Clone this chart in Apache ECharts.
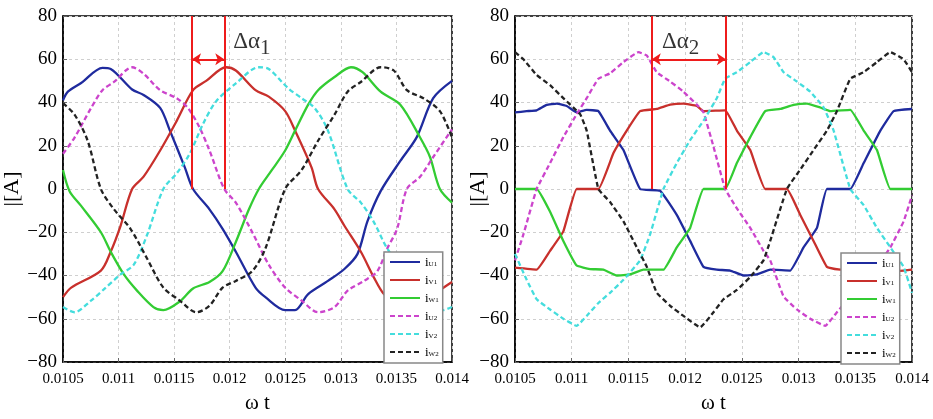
<!DOCTYPE html>
<html>
<head>
<meta charset="utf-8">
<script src="https://cdn.jsdelivr.net/npm/echarts@6/dist/echarts.min.js"></script>
<style>
html, body { margin: 0; padding: 0; background: #fff; }
#chart { width: 933px; height: 419px; }
</style>
</head>
<body>
<div id="chart"></div>
<script>
// tick settings
var xMin = 0.0105, xMax = 0.014, xStep = 0.0005;
var yMin = -80, yMax = 80, yStep = 20;
var seriesNames = ['iU1', 'iV1', 'iW1', 'iU2', 'iV2', 'iW2'];

// left panel, [t, A]
var leftU1 = [[0.0105,41],[0.010544,45],[0.010663,49],[0.010855,56],[0.010929,55.5],[0.011122,46],[0.011225,43.5],[0.011374,37.5],[0.011462,27],[0.011596,10],[0.01167,0],[0.011818,-9.4],[0.011936,-18.4],[0.012055,-29],[0.012232,-45.6],[0.012321,-50],[0.012499,-56],[0.012588,-56],[0.012706,-48.6],[0.012884,-42.5],[0.013032,-37],[0.01315,-30],[0.013239,-15],[0.013358,-1],[0.013535,13],[0.013683,24],[0.013831,42],[0.014,50]];
var leftV1 = [[0.0105,-50],[0.010574,-45.6],[0.010841,-37.7],[0.010929,-29],[0.011018,-17],[0.011122,0],[0.011225,5.7],[0.011374,17.8],[0.011522,31.4],[0.01167,45.7],[0.011788,50],[0.011966,56.3],[0.012055,54.8],[0.012232,45.7],[0.012351,42.7],[0.012499,36],[0.012588,27],[0.012736,10],[0.012795,0],[0.012943,-9.4],[0.013032,-17],[0.01318,-29],[0.013298,-41],[0.013387,-48.6],[0.013506,-53],[0.013624,-56],[0.013742,-54],[0.013861,-48],[0.014,-43]];
var leftW1 = [[0.0105,8.8],[0.010559,-1],[0.010663,-7.8],[0.010841,-20],[0.010929,-29],[0.011048,-39.5],[0.011166,-47],[0.011314,-54.6],[0.011403,-56],[0.011551,-52],[0.01167,-46],[0.011818,-43],[0.011936,-38],[0.012055,-24.5],[0.012173,-9.4],[0.012262,0],[0.01238,8.8],[0.012499,17.8],[0.012588,27],[0.012706,39],[0.012795,45.7],[0.012943,51.8],[0.013091,56.3],[0.013195,54],[0.013358,45],[0.013535,39],[0.013713,23.8],[0.013802,14.8],[0.013891,0],[0.014,-6.3]];
var leftU2 = [[0.0105,16.3],[0.010604,23.8],[0.010752,37.4],[0.010855,45.7],[0.010959,49.5],[0.011122,56.3],[0.011225,53.3],[0.011374,45.7],[0.011522,42],[0.011625,37.4],[0.011729,28.4],[0.011818,17.8],[0.011951,0],[0.012055,-6.3],[0.012203,-20],[0.012351,-35],[0.012499,-45.6],[0.012647,-51.6],[0.012795,-57],[0.012943,-54.6],[0.013061,-47],[0.013209,-42.5],[0.013328,-38],[0.013417,-27.5],[0.013506,-18.4],[0.013594,0],[0.013713,5.7],[0.013831,14.8],[0.014,27.6]];
var leftV2 = [[0.0105,-54.6],[0.010604,-57],[0.010752,-51.6],[0.01087,-46.3],[0.011018,-39.5],[0.011137,-35],[0.011255,-21.4],[0.011403,0],[0.011522,7.2],[0.01164,16.3],[0.011758,29.9],[0.011877,40.5],[0.012055,48.8],[0.012262,56.3],[0.012351,55.5],[0.012528,46.5],[0.012647,42],[0.012765,37.4],[0.012884,27],[0.013061,0],[0.01318,-6.3],[0.013298,-15.4],[0.013417,-27.5],[0.013594,-39.5],[0.013772,-47],[0.01392,-56],[0.014,-54.6]];
var leftW2 = [[0.0105,39.7],[0.010604,34.4],[0.010722,22.3],[0.010841,0],[0.010959,-9.4],[0.011107,-18.4],[0.011255,-32],[0.011403,-45.6],[0.011551,-51.6],[0.011699,-57],[0.011818,-54],[0.011936,-45.6],[0.012055,-42.5],[0.012203,-38],[0.012321,-27.5],[0.012499,0],[0.012647,8.8],[0.012795,22.3],[0.012943,34.4],[0.013061,45],[0.01318,49.5],[0.013358,56.3],[0.013476,54.8],[0.013594,45.7],[0.013742,42],[0.013891,36],[0.014,23.8]];

// right panel, [t, A]
var rightU1 = [[0.0105,35.4],[0.010603,36],[0.010691,36.4],[0.010779,38.9],[0.010868,39.5],[0.010956,38.4],[0.011044,35.4],[0.011132,36.6],[0.011235,36],[0.011338,27],[0.011456,18],[0.011603,0],[0.011779,-0.8],[0.011926,-12],[0.012044,-24],[0.012162,-36],[0.012279,-37.3],[0.012397,-37.7],[0.012515,-40],[0.012632,-39.5],[0.01275,-37.3],[0.012926,-37.7],[0.013044,-27],[0.013162,-18],[0.01325,0],[0.013456,0],[0.013574,12],[0.013721,27],[0.013838,36],[0.014,37]];
var rightV1 = [[0.0105,-36.4],[0.010691,-37.3],[0.010809,-28.6],[0.010926,-19.6],[0.011044,0],[0.011235,0],[0.011368,16.6],[0.011485,27],[0.011603,36],[0.01175,37],[0.011868,39],[0.011985,39.5],[0.012103,38.4],[0.012162,36],[0.012353,36.4],[0.012456,27],[0.012574,18],[0.012706,0],[0.012897,0],[0.013015,-12],[0.013132,-24],[0.01325,-36],[0.013368,-37.3],[0.013515,-37.7],[0.013662,-40],[0.013809,-38.4],[0.014,-37.3]];
var rightW1 = [[0.0105,0],[0.010691,0],[0.010809,-10.5],[0.010926,-24],[0.011044,-35.4],[0.011162,-37],[0.011279,-37.3],[0.011397,-40],[0.011515,-39.5],[0.011632,-37.3],[0.011809,-37.3],[0.011926,-27],[0.012044,-18],[0.012162,0],[0.012353,0],[0.012456,12],[0.012574,24],[0.012706,36],[0.012838,37],[0.012956,38.9],[0.013074,39.5],[0.013191,37.7],[0.013279,36],[0.013456,36.6],[0.013574,27],[0.013691,18],[0.013809,0],[0.014,0]];
var rightU2 = [[0.0105,-33],[0.010574,-21],[0.010691,0],[0.010809,12],[0.010926,24],[0.011044,34.6],[0.011132,42],[0.011235,51],[0.011338,53.5],[0.011456,58.7],[0.011588,63.3],[0.011662,61.7],[0.01175,54],[0.011868,49.7],[0.011985,45],[0.012103,39],[0.012162,35.4],[0.01225,19.6],[0.012353,0],[0.012456,-9],[0.012574,-18],[0.012691,-28.6],[0.01275,-33],[0.012868,-49.7],[0.012985,-55.7],[0.013103,-60],[0.013235,-63.3],[0.013338,-57],[0.013456,-49.7],[0.013574,-43.7],[0.013691,-36],[0.013809,-27],[0.013926,-15],[0.014,-3]];
var rightV2 = [[0.0105,-30],[0.010603,-42],[0.010691,-51],[0.010809,-55.7],[0.010926,-60],[0.011044,-63.3],[0.011132,-58.7],[0.011235,-52.7],[0.011338,-48],[0.011456,-42],[0.011603,-33],[0.011691,-21],[0.011809,0],[0.011926,12],[0.012044,22.6],[0.012162,31.6],[0.012279,42],[0.012353,51],[0.012456,54],[0.012574,58.7],[0.012691,63.3],[0.012779,61],[0.012868,54],[0.012985,49.7],[0.013103,45],[0.013221,37.7],[0.013309,27],[0.013456,0],[0.013574,-7.5],[0.013691,-18],[0.013809,-27],[0.013926,-36],[0.014,-48]];
var rightW2 = [[0.0105,63.3],[0.010574,60],[0.010691,52.7],[0.010809,48],[0.010926,42],[0.011074,34.6],[0.011132,27],[0.011235,0],[0.011338,-6],[0.011456,-15],[0.011574,-27],[0.011662,-36],[0.01175,-48],[0.011868,-54],[0.011985,-58.7],[0.012132,-64],[0.01225,-57],[0.012338,-51],[0.012456,-46.7],[0.012574,-40.7],[0.012691,-33],[0.01275,-24],[0.012897,0],[0.013015,9],[0.013132,18],[0.01325,27],[0.013338,36],[0.013456,51],[0.013574,54],[0.013691,58.7],[0.013809,63.3],[0.013926,60],[0.014,54]];

// delta alpha markers
var leftMarks = [0.011661, 0.011951];
var rightMarks = [0.011706, 0.012359];
var markTop = 80, markArrow = 60;
var leftLabel = [0.01220, 68];
var rightLabel = [0.01196, 68];

var colors = ['#1f2b9e', '#c8302c', '#33cc33', '#cc44cc', '#44dddd', '#222222'];
var serif = 'Liberation Serif';

function makeGrid(left, width, height) {
	return {
		left: left, top: 16, width: width, height: height,
		show: true, borderColor: '#000', borderWidth: 1.5, backgroundColor: '#fff'
	};
}

function makeX(idx) {
	return {
		type: 'value', gridIndex: idx,
		min: xMin, max: xMax, interval: xStep,
		name: 'ω t', nameLocation: 'middle', nameGap: 31,
		nameTextStyle: { fontFamily: serif, fontSize: 21, color: '#000' },
		axisLine: { onZero: false, lineStyle: { color: '#000', width: 1.5 } },
		axisTick: { show: true, inside: true, length: 4, lineStyle: { color: '#666' } },
		axisLabel: {
			color: '#000', fontFamily: serif, fontSize: 15, margin: 10,
			formatter: function(v) { return String(+v.toFixed(4)); }
		},
		splitLine: { show: true, lineStyle: { color: '#cfcfcf', type: [3, 3] } }
	};
}

function makeY(idx, gap) {
	return {
		type: 'value', gridIndex: idx,
		min: yMin, max: yMax, interval: yStep,
		name: '|[A]', nameLocation: 'middle', nameGap: gap, nameRotate: 90,
		nameMoveOverlap: false,
		nameTextStyle: { fontFamily: serif, fontSize: 22, color: '#000' },
		axisLine: { onZero: false, lineStyle: { color: '#000', width: 1.5 } },
		axisTick: { show: true, inside: true, length: 4, lineStyle: { color: '#666' } },
		axisLabel: {
			color: '#000', fontFamily: serif, fontSize: 19, margin: 6,
			formatter: function(v) { return String(v).replace('-', '\u2212'); }
		},
		splitLine: { show: true, lineStyle: { color: '#cfcfcf', type: [3, 3] } }
	};
}

function makeSeries(idx, arrays, smooth) {
	var out = [];
	for (var i = 0; i < arrays.length; i++) {
		out.push({
			name: seriesNames[i], type: 'line',
			xAxisIndex: idx, yAxisIndex: idx,
			data: arrays[i], showSymbol: false, symbol: 'none',
			smooth: smooth, silent: true, z: 2,
			lineStyle: { color: colors[i], width: 2.3, type: i < 3 ? 'solid' : [5, 3], join: 'round' },
			itemStyle: { color: colors[i] }
		});
	}
	return out;
}

function makeMarks(idx, marks, label, sub) {
	var red = '#ee1c1c';
	return [{
		name: 'mark' + idx, type: 'line', xAxisIndex: idx, yAxisIndex: idx,
		data: [], silent: true, z: 5,
		markLine: {
			silent: true, symbol: ['none', 'none'], animation: false,
			label: { show: false },
			lineStyle: { color: red, width: 2, type: 'solid' },
			data: [
				[{ coord: [marks[0], 0] }, { coord: [marks[0], markTop] }],
				[{ coord: [marks[1], 0] }, { coord: [marks[1], markTop] }],
				[{ coord: [marks[0], markArrow], symbol: 'arrow', symbolSize: 9 },
				 { coord: [marks[1], markArrow], symbol: 'arrow', symbolSize: 9 }]
			]
		}
	}, {
		name: 'label' + idx, type: 'scatter', xAxisIndex: idx, yAxisIndex: idx,
		data: [label], symbolSize: 0, silent: true, z: 6,
		label: {
			show: true, position: 'inside',
			formatter: '{a|Δα}{b|' + sub + '}',
			rich: {
				a: { fontFamily: serif, fontSize: 23, color: '#000', lineHeight: 30, verticalAlign: 'middle' },
				b: { fontFamily: serif, fontSize: 21, color: '#000', lineHeight: 30, padding: [14, 0, 0, 0] }
			}
		}
	}];
}

function makeLegend(left, top) {
	return {
		left: left, top: top, orient: 'vertical',
		data: seriesNames, selectedMode: false,
		itemWidth: 30, itemHeight: 10, itemGap: 5,
		backgroundColor: '#fff', borderColor: '#888', borderWidth: 1.5, borderRadius: 0,
		padding: [4, 4, 4, 5],
		// hide the marker dot, keep only the line sample
		itemStyle: { color: 'rgba(0,0,0,0)', borderColor: 'rgba(0,0,0,0)', borderWidth: 0 },
		formatter: function(name) {
			return '{i|i}{s|' + name.slice(1) + '}';
		},
		textStyle: {
			rich: {
				i: { fontFamily: serif, fontSize: 13, color: '#000', lineHeight: 12, verticalAlign: 'top' },
				s: { fontFamily: serif, fontSize: 7, color: '#000', lineHeight: 8, verticalAlign: 'bottom' }
			}
		}
	};
}

var chart = echarts.init(document.getElementById('chart'), null, { renderer: 'canvas' });
var option = {
	animation: false,
	backgroundColor: '#fff',
	grid: [makeGrid(58, 394, 353), makeGrid(515, 397, 354)],
	xAxis: [makeX(0), makeX(1)],
	yAxis: [makeY(0, 40), makeY(1, 26)],
	legend: [makeLegend(384, 252), makeLegend(841, 253)],
	series: []
		.concat(makeSeries(0, [leftU1, leftV1, leftW1, leftU2, leftV2, leftW2], 0.3))
		.concat(makeSeries(1, [rightU1, rightV1, rightW1, rightU2, rightV2, rightW2], 0.1))
		.concat(makeMarks(0, leftMarks, leftLabel, '1'))
		.concat(makeMarks(1, rightMarks, rightLabel, '2'))
};
chart.setOption(option);
</script>
</body>
</html>
